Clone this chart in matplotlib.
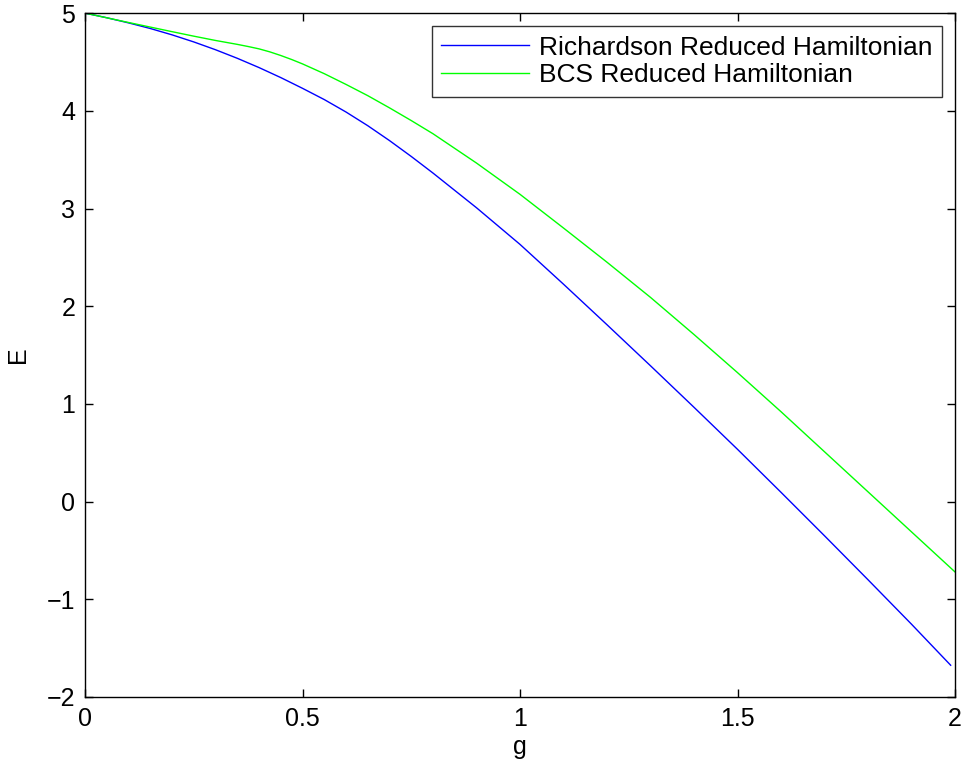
import matplotlib
matplotlib.use("Agg")
import matplotlib.pyplot as plt

plt.rcParams['font.family'] = ['Liberation Sans', 'DejaVu Sans']

# coupling strength g and energy E
g_rich = [0.0, 0.05, 0.1, 0.15, 0.2, 0.25, 0.3, 0.35, 0.4, 0.45, 0.5, 0.55, 0.6,
          0.65, 0.7, 0.75, 0.8, 0.9, 1.0, 1.1, 1.2, 1.3, 1.4, 1.5, 1.6, 1.7,
          1.8, 1.9, 1.99]
E_rich = [5.00, 4.9525, 4.90, 4.8425, 4.7775, 4.705, 4.625, 4.5375, 4.4425, 4.34, 4.23,
          4.115, 3.9875, 3.8475, 3.695, 3.5325, 3.3625, 3.0075, 2.6325, 2.225, 1.81,
          1.39, 0.965, 0.535, 0.095, -0.35, -0.80, -1.255, -1.675]

g_bcs = [0.0, 0.05, 0.1, 0.15, 0.2, 0.25, 0.3, 0.35, 0.375, 0.4, 0.425, 0.45, 0.475,
         0.5, 0.55, 0.6, 0.65, 0.7, 0.75, 0.8, 0.9, 1.0, 1.1, 1.2, 1.3, 1.4, 1.5,
         1.6, 1.7, 1.8, 1.9, 2.0]
E_bcs = [5.00, 4.952, 4.904, 4.857, 4.81, 4.764, 4.72, 4.68, 4.658, 4.634, 4.603, 4.566,
         4.525, 4.48, 4.38, 4.27, 4.155, 4.03, 3.90, 3.765, 3.465, 3.145, 2.80, 2.45,
         2.09, 1.71, 1.32, 0.92, 0.51, 0.10, -0.31, -0.72]

labels = ['Richardson Reduced Hamiltonian', 'BCS Reduced Hamiltonian']
xticks = [0, 0.5, 1, 1.5, 2]
xticklabels = ['0', '0.5', '1', '1.5', '2']
yticks = [-2, -1, 0, 1, 2, 3, 4, 5]

fig = plt.figure(figsize=(9.63, 7.71), dpi=100)
ax = fig.add_axes([0.0883, 0.096, 0.9034, 0.887])

ax.plot(g_rich, E_rich, color=(0, 0, 1), lw=1.0, label=labels[0])
ax.plot(g_bcs, E_bcs, color=(0, 1, 0), lw=1.0, label=labels[1])

ax.set_xlim(0, 2)
ax.set_ylim(-2, 5)
ax.set_xticks(xticks)
ax.set_xticklabels(xticklabels)
ax.set_yticks(yticks)

ax.tick_params(direction='in', length=6, width=1, top=True, right=True,
               labelsize=18, pad=7)
for sp in ax.spines.values():
    sp.set_linewidth(1.0)

ax.set_xlabel('g', fontsize=18, labelpad=3)
ax.set_ylabel('E', fontsize=18, labelpad=12)

leg = ax.legend(loc='upper right', fontsize=19, frameon=True, fancybox=False,
                edgecolor='black', borderaxespad=0.5, handlelength=3.3,
                labelspacing=0.15, borderpad=0.35, handletextpad=0.4)
leg.get_frame().set_linewidth(1.0)

plt.savefig("out.png", dpi=100)
